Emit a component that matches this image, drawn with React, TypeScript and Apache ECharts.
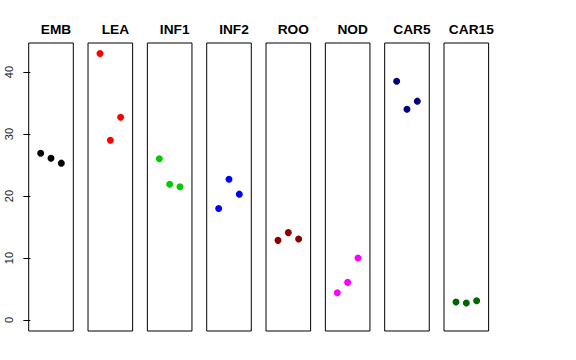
import React, { useEffect, useRef } from "react";
import * as echarts from "echarts";

const panels = ["EMB", "LEA", "INF1", "INF2", "ROO", "NOD", "CAR5", "CAR15"];
const colors = ["#000000", "#FF0000", "#00CD00", "#0000FF", "#8B0000", "#FF00FF", "#000080", "#006400"];
const positions = [1, 2, 3];
const valuesEMB = [26.9, 26.1, 25.3];
const valuesLEA = [43.0, 29.0, 32.7];
const valuesINF1 = [26.0, 21.9, 21.5];
const valuesINF2 = [18.0, 22.7, 20.3];
const valuesROO = [12.85, 14.1, 13.06];
const valuesNOD = [4.4, 6.07, 10.0];
const valuesCAR5 = [38.5, 34.0, 35.3];
const valuesCAR15 = [2.9, 2.74, 3.1];
const yTicks = [0, 10, 20, 30, 40];

const allValues = [valuesEMB, valuesLEA, valuesINF1, valuesINF2, valuesROO, valuesNOD, valuesCAR5, valuesCAR15];

export default function App() {
  const ref = useRef<HTMLDivElement>(null);
  useEffect(() => {
    if (!ref.current) return;
    const chart = echarts.init(ref.current, null, { renderer: "svg" });
    const left0 = 28.7;
    const step = 59.33;
    const w = 44.6;
    const top = 43;
    const h = 288;
    const grids = panels.map((_, i) => ({
      left: left0 + i * step,
      top,
      width: w,
      height: h,
      show: true,
      borderColor: "#000",
      borderWidth: 1,
      backgroundColor: "transparent",
    }));
    const xAxes = panels.map((_, i) => ({
      type: "value",
      gridIndex: i,
      min: -0.16,
      max: 4.16,
      show: false,
    }));
    const yAxes = panels.map((_, i) => ({
      type: "value",
      gridIndex: i,
      min: -1.77,
      max: 44.68,
      show: i === 0,
      splitLine: { show: false },
      axisLine: { show: false },
      axisTick: {
        show: i === 0,
        inside: false,
        length: 7,
        customValues: yTicks,
        lineStyle: { color: "#000", width: 1 },
      },
      axisLabel: {
        show: i === 0,
        customValues: yTicks,
        rotate: 90,
        margin: 14,
        fontSize: 11,
        color: "#222",
        fontFamily: "Liberation Sans, Arial, sans-serif",
      },
    }));
    const titles = panels.map((p, i) => ({
      text: p,
      left: left0 + i * step + w / 2,
      top: 17,
      textAlign: "center",
      textStyle: {
        fontSize: 13.7,
        fontWeight: "bold",
        color: "#000",
        fontFamily: "Liberation Sans, Arial, sans-serif",
      },
    }));
    const series = panels.map((p, i) => ({
      type: "scatter",
      name: p,
      xAxisIndex: i,
      yAxisIndex: i,
      symbol: "circle",
      symbolSize: 7,
      itemStyle: { color: colors[i], opacity: 1 },
      data: positions.map((x, j) => [x, allValues[i][j]]),
    }));
    chart.setOption({
      animation: false,
      backgroundColor: "#fff",
      title: titles,
      grid: grids,
      xAxis: xAxes,
      yAxis: yAxes,
      series,
    });
    return () => chart.dispose();
  }, []);
  return (
    <div
      ref={ref}
      style={{ width: 576, height: 360, position: "absolute", left: 0, top: 0 }}
    />
  );
}
